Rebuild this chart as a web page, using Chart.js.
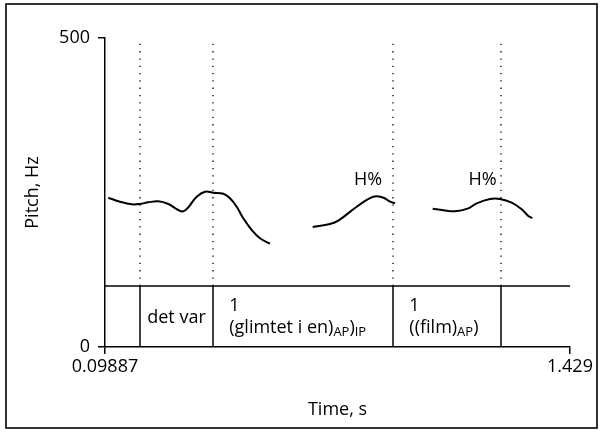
<!DOCTYPE html>
<html><head><meta charset="utf-8">
<script src="https://cdn.jsdelivr.net/npm/chart.js@4/dist/chart.umd.min.js"></script>
<style>html,body{margin:0;padding:0;background:#fff}#wrap{width:602px;height:437px;position:relative}</style>
</head><body><div id="wrap"><canvas id="c"></canvas></div>
<script>
// ---- data ----
const X_MIN = 0.09887, X_MAX = 1.429;
const Y_MIN = 0, Y_MAX = 500;
const xTickLabels = ["0.09887", "1.429"];
const yTickLabels = ["0", "500"];
const xTitle = "Time, s";
const yTitle = "Pitch, Hz";

const pitch1T  = [0.1083, 0.1418, 0.1752, 0.1990, 0.2227, 0.2513, 0.2800, 0.3085, 0.3228, 0.3371, 0.3612, 0.3849, 0.4087, 0.4373, 0.4564, 0.4756, 0.4945, 0.5185, 0.5422, 0.5709];
const pitch1Hz = [241.6, 235.1, 230.9, 231.4, 234.1, 235.7, 231.4, 221.7, 219.6, 226.0, 243.2, 251.3, 249.7, 248.0, 240.6, 227.0, 208.2, 189.3, 175.9, 167.1];
const pitch2T  = [0.6930, 0.7425, 0.7662, 0.8189, 0.8663, 0.8950, 0.9141, 0.9284];
const pitch2Hz = [194.2, 199.0, 204.4, 227.0, 243.2, 241.6, 235.1, 232.5];
const pitch3T  = [1.0362, 1.0666, 1.1000, 1.1381, 1.1621, 1.2002, 1.2288, 1.2622, 1.2908, 1.3097, 1.3212];
const pitch3Hz = [223.8, 221.2, 219.6, 224.4, 232.5, 239.5, 239.5, 233.5, 222.8, 212.0, 208.7];

const tierTopHz = 98.7;
const boundaries = [0.1990, 0.4078, 0.9227, 1.2316];
const intervalTexts = ["", "det var", "1\n(glimtet i en)_{AP})_{IP}", "1\n((film)_{AP})", ""];

const toneLabels = ["H%", "H%"];
const toneT  = [0.8512, 1.1787];
const toneHz = [270, 270];

// ---- build datasets ----
const FONT = "'Open Sans', 'Noto Sans', sans-serif";
const FS = 18, FS_SUB = 13;
const pts = (ts, vs) => ts.map((t, i) => ({x: t, y: vs[i]}));
const curveStyle = {showLine: true, borderColor: '#000', borderWidth: 2, pointRadius: 0, tension: 0.4, fill: false};
const datasets = [
  Object.assign({data: pts(pitch1T, pitch1Hz)}, curveStyle),
  Object.assign({data: pts(pitch2T, pitch2Hz)}, curveStyle),
  Object.assign({data: pts(pitch3T, pitch3Hz)}, curveStyle),
  {data: [{x: X_MIN, y: tierTopHz}, {x: X_MAX, y: tierTopHz}], showLine: true, borderColor: '#000', borderWidth: 1.5, pointRadius: 0, clip: false}
];
boundaries.forEach(b => {
  datasets.push({data: [{x: b, y: Y_MIN}, {x: b, y: tierTopHz}], showLine: true, borderColor: '#000', borderWidth: 1.5, pointRadius: 0, clip: false});
  datasets.push({data: [{x: b, y: tierTopHz}, {x: b, y: Y_MAX}], showLine: true, borderColor: '#000', borderWidth: 1.3, borderDash: [1.3, 6], pointRadius: 0, clip: false});
});

function parseRich(line) {
  const segs = [];
  const re = /_\{([^}]*)\}/g;
  let last = 0, m;
  while ((m = re.exec(line))) {
    if (m.index > last) segs.push({t: line.slice(last, m.index), sub: false});
    segs.push({t: m[1], sub: true});
    last = re.lastIndex;
  }
  if (last < line.length) segs.push({t: line.slice(last), sub: false});
  return segs;
}

const annot = {
  id: 'annot',
  afterDatasetsDraw(chart) {
    const ctx = chart.ctx, xs = chart.scales.x, ys = chart.scales.y;
    ctx.save();
    // frame
    ctx.strokeStyle = '#000'; ctx.lineWidth = 1.6;
    ctx.strokeRect(6, 4, 591, 424);
    ctx.fillStyle = '#000';
    // axis titles
    ctx.font = FS + "px " + FONT;
    ctx.textAlign = 'center'; ctx.textBaseline = 'middle';
    ctx.fillText(xTitle, (xs.left + xs.right) / 2, 410);
    ctx.save();
    ctx.translate(33, (ys.top + ys.bottom) / 2);
    ctx.rotate(-Math.PI / 2);
    ctx.fillText(yTitle, 0, 0);
    ctx.restore();
    // tone labels
    toneLabels.forEach((s, i) => {
      ctx.fillText(s, xs.getPixelForValue(toneT[i]), ys.getPixelForValue(toneHz[i]));
    });
    // tier texts
    const edges = [X_MIN, ...boundaries, X_MAX];
    const yTop = ys.getPixelForValue(tierTopHz), yBot = ys.getPixelForValue(Y_MIN);
    intervalTexts.forEach((txt, i) => {
      if (!txt) return;
      const x0 = xs.getPixelForValue(edges[i]), x1 = xs.getPixelForValue(edges[i + 1]);
      const cx = (x0 + x1) / 2;
      const lines = txt.split('\n');
      if (lines.length === 1 && txt.indexOf('_{') < 0) {
        ctx.textAlign = 'center'; ctx.textBaseline = 'middle';
        ctx.font = FS + "px " + FONT;
        ctx.fillText(txt, cx, (yTop + yBot) / 2 + 1);
        return;
      }
      ctx.textAlign = 'left'; ctx.textBaseline = 'alphabetic';
      ctx.font = FS + "px " + FONT;
      let w = 0;
      lines.forEach(l => { w = Math.max(w, ctx.measureText(l.replace(/_\{([^}]*)\}/g, '$1')).width); });
      const left = cx - w / 2;
      lines.forEach((l, li) => {
        const base = yTop + 25 + li * 22;
        let x = left;
        parseRich(l).forEach(sg => {
          ctx.font = (sg.sub ? FS_SUB : FS) + "px " + FONT;
          ctx.fillText(sg.t, x, base + (sg.sub ? 3 : 0));
          x += ctx.measureText(sg.t).width;
        });
      });
    });
    ctx.restore();
  }
};

new Chart(document.getElementById('c'), {
  type: 'scatter',
  data: {datasets},
  options: {
    responsive: true, maintainAspectRatio: false, animation: false,
    layout: {padding: {left: 0, right: 32, top: 38, bottom: 0}},
    plugins: {legend: {display: false}, tooltip: {enabled: false}},
    scales: {
      x: {
        type: 'linear', min: X_MIN, max: X_MAX,
        afterBuildTicks: s => { s.ticks = [{value: X_MIN}, {value: X_MAX}]; },
        afterFit: s => { s.height = 90; },
        ticks: {callback: (v, i) => xTickLabels[i], autoSkip: false, maxRotation: 0, color: '#000', font: {size: FS, family: FONT}, padding: 2},
        grid: {display: true, drawOnChartArea: false, drawTicks: true, tickLength: 7, color: '#000', lineWidth: 1.5},
        border: {display: true, color: '#000', width: 1.5}
      },
      y: {
        type: 'linear', min: Y_MIN, max: Y_MAX,
        afterBuildTicks: s => { s.ticks = [{value: Y_MIN}, {value: Y_MAX}]; },
        afterFit: s => { s.width = 105; },
        ticks: {callback: (v, i) => yTickLabels[i], autoSkip: false, color: '#000', font: {size: FS, family: FONT}, padding: 8},
        grid: {display: true, drawOnChartArea: false, drawTicks: true, tickLength: 7, color: '#000', lineWidth: 1.5},
        border: {display: true, color: '#000', width: 1.5}
      }
    }
  },
  plugins: [annot]
});
</script></body></html>
